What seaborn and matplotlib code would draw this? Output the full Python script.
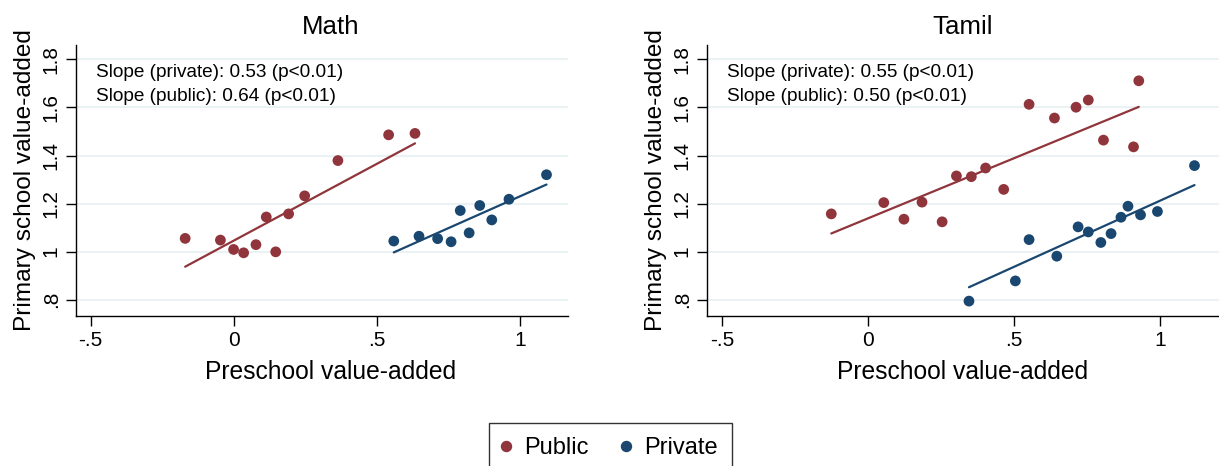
import numpy as np
import pandas as pd
import matplotlib
matplotlib.use('Agg')
import matplotlib.pyplot as plt
import seaborn as sns
from matplotlib.lines import Line2D

# ---- data ----
math_pub_x = [-0.170, -0.047, -0.001, 0.034, 0.077, 0.113, 0.146, 0.191, 0.247, 0.363, 0.540, 0.632]
math_pub_y = [1.055, 1.048, 1.009, 0.995, 1.029, 1.144, 0.999, 1.157, 1.232, 1.379, 1.486, 1.492]
math_prv_x = [0.558, 0.646, 0.711, 0.758, 0.790, 0.821, 0.858, 0.900, 0.960, 1.091]
math_prv_y = [1.044, 1.064, 1.054, 1.041, 1.171, 1.078, 1.192, 1.132, 1.218, 1.320]

tamil_pub_x = [-0.127, 0.053, 0.122, 0.184, 0.253, 0.302, 0.353, 0.402, 0.464, 0.551,
               0.638, 0.712, 0.754, 0.806, 0.909, 0.927]
tamil_pub_y = [1.157, 1.204, 1.135, 1.206, 1.124, 1.315, 1.312, 1.348, 1.259, 1.613,
               1.556, 1.601, 1.631, 1.464, 1.436, 1.711]
tamil_prv_x = [0.345, 0.504, 0.551, 0.646, 0.719, 0.754, 0.797, 0.832, 0.866, 0.890,
               0.933, 0.991, 1.118]
tamil_prv_y = [0.794, 0.878, 1.050, 0.981, 1.103, 1.082, 1.038, 1.075, 1.143, 1.189,
               1.153, 1.167, 1.358]

# fitted lines (slope from the annotation, intercept)
fit_slope = {('Math', 'Public'): 0.64, ('Math', 'Private'): 0.53,
             ('Tamil', 'Public'): 0.50, ('Tamil', 'Private'): 0.55}
fit_intercept = {('Math', 'Public'): 1.046, ('Math', 'Private'): 0.701,
                 ('Tamil', 'Public'): 1.139, ('Tamil', 'Private'): 0.662}

subjects = ['Math', 'Tamil']
slope_text = {
    'Math': ['Slope (private): 0.53 (p<0.01)', 'Slope (public): 0.64 (p<0.01)'],
    'Tamil': ['Slope (private): 0.55 (p<0.01)', 'Slope (public): 0.50 (p<0.01)'],
}
x_ticks = [-0.5, 0, 0.5, 1]
x_ticklabels = ['-.5', '0', '.5', '1']
y_ticks = [0.8, 1.0, 1.2, 1.4, 1.6, 1.8]
y_ticklabels = ['.8', '1', '1.2', '1.4', '1.6', '1.8']

frames = []
for subj, sector, xs, ys in [('Math', 'Public', math_pub_x, math_pub_y),
                             ('Math', 'Private', math_prv_x, math_prv_y),
                             ('Tamil', 'Public', tamil_pub_x, tamil_pub_y),
                             ('Tamil', 'Private', tamil_prv_x, tamil_prv_y)]:
    frames.append(pd.DataFrame({'subject': subj, 'sector': sector, 'pre': xs, 'prim': ys}))
df = pd.concat(frames, ignore_index=True)

# fit line endpoints span each group's x range
fit_rows = []
for (subj, sector), g in df.groupby(['subject', 'sector']):
    for xv in [g.pre.min(), g.pre.max()]:
        fit_rows.append({'subject': subj, 'sector': sector, 'pre': xv,
                         'prim': fit_intercept[(subj, sector)] + fit_slope[(subj, sector)] * xv})
fits = pd.DataFrame(fit_rows)

colors = {'Public': '#90353B', 'Private': '#1A476F'}

sns.set_style('white')
plt.rcParams['font.family'] = ['Liberation Sans', 'DejaVu Sans']
plt.rcParams['text.color'] = 'black'
plt.rcParams['axes.labelcolor'] = 'black'
plt.rcParams['xtick.color'] = 'black'
plt.rcParams['ytick.color'] = 'black'

W, H = 1219, 466
fig = plt.figure(figsize=(W / 100, H / 100), dpi=100)

# axes boxes in pixels: left, top, right, bottom
boxes = {'Math': (76, 45, 568, 316), 'Tamil': (707, 45, 1219, 316)}
xlims = {'Math': (-0.551, 1.166), 'Tamil': (-0.553, 1.202)}
title_x = {'Math': 0.518, 'Tamil': 0.5}

for subj in subjects:
    l, t, r, b = boxes[subj]
    ax = fig.add_axes([l / W, 1 - b / H, (r - l) / W, (b - t) / H])
    sub = df[df.subject == subj]

    for yv in y_ticks:
        ax.axhline(yv, color='#EAF2F3', lw=1.5, zorder=0)

    sns.scatterplot(data=sub, x='pre', y='prim', hue='sector', palette=colors,
                    s=60, edgecolor='none', legend=False, ax=ax, zorder=3)
    sns.lineplot(data=fits[fits.subject == subj], x='pre', y='prim', hue='sector',
                 palette=colors, lw=1.6, legend=False, ax=ax, zorder=2)

    ax.set_xlim(*xlims[subj])
    ax.set_ylim(0.732, 1.860)
    ax.set_xticks(x_ticks)
    ax.set_xticklabels(x_ticklabels)
    ax.set_yticks(y_ticks)
    ax.set_yticklabels(y_ticklabels, rotation=90, va='center')
    ax.tick_params(axis='both', direction='out', length=7, width=1, color='black',
                   labelsize=15, pad=4, left=True, bottom=True)
    for side in ['top', 'right']:
        ax.spines[side].set_visible(False)
    for side in ['left', 'bottom']:
        ax.spines[side].set_color('black')
        ax.spines[side].set_linewidth(1.0)

    ax.set_xlabel('Preschool value-added', fontsize=17.7, labelpad=7,
                  x=title_x[subj], ha='center')
    ax.set_ylabel('Primary school value-added', fontsize=17.6, labelpad=4)
    ax.set_title(subj, fontsize=18.6, pad=8, x=title_x[subj])

    ax.text(0.04, 0.898, slope_text[subj][0], transform=ax.transAxes,
            fontsize=13.7, va='center', ha='left')
    ax.text(0.04, 0.809, slope_text[subj][1], transform=ax.transAxes,
            fontsize=13.7, va='center', ha='left')

handles = [Line2D([], [], marker='o', ls='', color=colors[s], markersize=7.2) for s in ['Public', 'Private']]
leg = fig.legend(handles, ['Public', 'Private'], loc='upper center',
                 bbox_to_anchor=(0.5008, 1 - 422.7 / H), ncol=2, fontsize=17,
                 frameon=True, fancybox=False, edgecolor='black', handletextpad=0.66,
                 columnspacing=1.5, borderpad=0.6, handlelength=0.2, borderaxespad=0)
leg.get_frame().set_linewidth(1.0)

fig.savefig('out.png', dpi=100)
